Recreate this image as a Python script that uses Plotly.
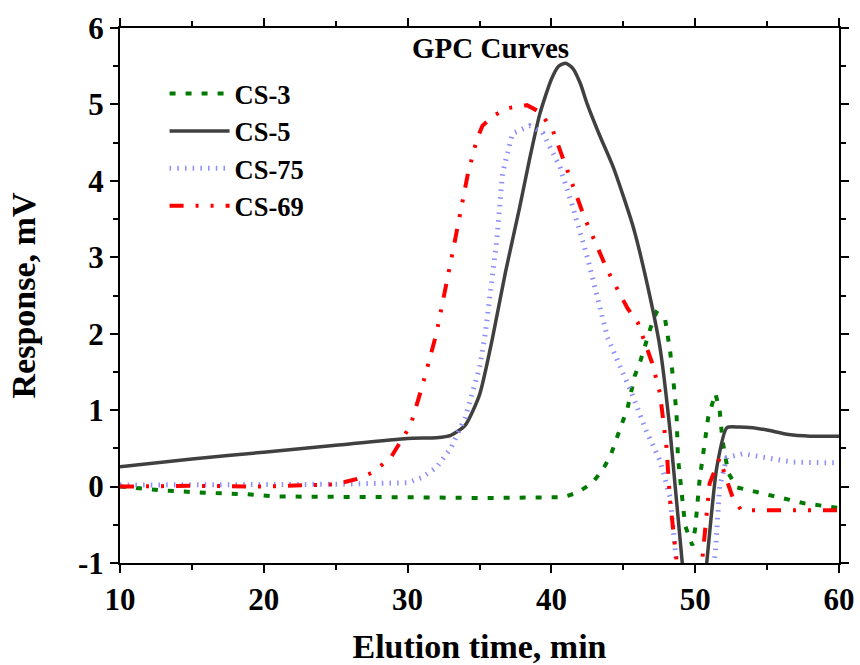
import plotly.graph_objects as go

# ---- data ----
x_cs3 = [10, 13, 15.8, 18.8, 20.9, 25, 30, 35, 40, 40.8, 41.8, 42.8, 43.5, 44.1, 44.9, 45.3, 45.8, 46.2, 46.9, 47.3,
         47.9, 48.25, 48.5, 48.7, 48.8, 49.1, 49.3, 49.8, 50.0, 50.3, 50.7, 50.9, 51.4, 51.7, 51.9, 52.3, 52.9, 53.8,
         55.8, 57.6, 60]
y_cs3 = [0.0, -0.05, -0.08, -0.1, -0.13, -0.13, -0.14, -0.15, -0.15, -0.14, -0.08, 0.04, 0.2, 0.4, 0.82, 1.03, 1.45,
         1.65, 2.08, 2.28, 2.2, 1.78, 1.35, 0.96, 0.38, -0.09, -0.51, -0.77, -0.55, 0.08, 0.69, 0.9, 1.22, 1.0, 0.6,
         0.18, -0.01, -0.05, -0.14, -0.22, -0.28]

x_cs5 = [10, 15, 20, 25, 30, 32, 33, 34, 35, 35.9, 36.8, 37.8, 38.5, 39.2, 40, 40.5, 41, 41.5, 42, 42.5, 43.3,
         44.3, 45.0, 45.7, 46.6, 47.55, 48.25, 49.1, 50, 50.8, 51.5, 52.2, 53, 54, 55, 56.5, 58, 60]
y_cs5 = [0.26, 0.36, 0.45, 0.54, 0.63, 0.64, 0.67, 0.8, 1.2, 1.94, 2.8, 3.66, 4.3, 4.88, 5.33, 5.5, 5.54, 5.47,
         5.28, 5.0, 4.62, 4.18, 3.8, 3.39, 2.7, 1.82, 0.73, -1.0, -2.5, -1.0, 0.25, 0.77, 0.78, 0.77, 0.74, 0.68,
         0.66, 0.66]

x_cs75 = [10, 15, 20, 25, 30, 31, 32, 33, 34, 35, 35.4, 36.2, 36.6, 37.3, 38.5, 39.4, 40.6, 41.5, 42.5, 43.9, 45.5,
          46.6, 47.55, 48.25, 48.6, 49.2, 50.5, 51.4, 51.7, 52.2, 53.3, 55, 56.8, 60]
y_cs75 = [0.02, 0.02, 0.03, 0.03, 0.05, 0.12, 0.25, 0.5, 0.9, 1.55, 2.0, 3.22, 4.1, 4.62, 4.72, 4.63, 4.18, 3.65,
          3.0, 1.95, 1.26, 0.73, 0.34, -0.14, -0.8, -2.0, -2.0, -0.88, 0.0, 0.38, 0.43, 0.37, 0.32, 0.31]

x_cs69 = [10, 15, 20, 25, 26.5, 27.5, 28.8, 30.2, 31, 32, 33.2, 34.2, 34.8, 35.2, 35.9, 36.9, 38.3, 39.2, 40.1,
          41.4, 42.3, 43.9, 45.3, 46.0, 46.5, 47.0, 47.55, 48.0, 48.25, 48.7, 49.5, 50.5, 51.0, 51.4, 51.7, 52.2,
          52.6, 53.2, 56, 60]
y_cs69 = [0.0, 0.01, 0.0, 0.03, 0.1, 0.18, 0.37, 0.8, 1.3, 2.0, 3.13, 4.1, 4.53, 4.72, 4.84, 4.95, 4.99, 4.9, 4.66,
          3.97, 3.52, 2.83, 2.33, 2.15, 1.88, 1.62, 1.22, 0.52, -0.18, -0.97, -2.0, -0.94, 0.04, 0.25, 0.37, 0.08,
          -0.14, -0.31, -0.31, -0.31]

x_ticks = [10, 20, 30, 40, 50, 60]
y_ticks = [-1, 0, 1, 2, 3, 4, 5, 6]

FONT = "Liberation Serif, Times New Roman, serif"

fig = go.Figure()
fig.add_trace(go.Scatter(x=x_cs3, y=y_cs3, mode="lines", name="CS-3", legendgroup="a",
                         line=dict(color="#007a00", width=4, dash="6px,10px")))
fig.add_trace(go.Scatter(x=x_cs5, y=y_cs5, mode="lines", name="CS-5", legendgroup="b",
                         line=dict(color="#404040", width=3.5, shape="spline", smoothing=0.6)))
fig.add_trace(go.Scatter(x=x_cs75, y=y_cs75, mode="lines", name="CS-75", legendgroup="c",
                         line=dict(color="#8c8cff", width=5, dash="1.5px,6.2px")))
fig.add_trace(go.Scatter(x=x_cs69, y=y_cs69, mode="lines", name="CS-69", legendgroup="d",
                         line=dict(color="#ff0000", width=4, dash="14px,12px,3px,12px,3px,12px")))

axis_common = dict(showline=True, linecolor="black", linewidth=2, mirror="allticks", ticks="outside",
                   ticklen=8, tickwidth=2, tickcolor="black", showgrid=False, zeroline=False,
                   automargin=False,
                   tickfont=dict(family=FONT, size=31, color="black", weight="bold"),
                   minor=dict(ticks="outside", ticklen=5, tickwidth=1.5, tickcolor="black"))

fig.update_xaxes(range=[10, 60], tickvals=x_ticks, ticktext=[str(v) for v in x_ticks],
                 minor_dtick=5,
                 title=dict(text="Elution time, min", standoff=24,
                            font=dict(family=FONT, size=34, color="black", weight="bold")),
                 **axis_common)
fig.update_yaxes(range=[-1, 6], tickvals=y_ticks, ticktext=[str(v) for v in y_ticks],
                 minor_dtick=0.5,
                 title=dict(text="Response, mV", standoff=32,
                            font=dict(family=FONT, size=34, color="black", weight="bold")),
                 **axis_common)

fig.add_annotation(text="GPC Curves", xref="paper", yref="paper", x=0.515, y=0.963,
                   xanchor="center", yanchor="middle", showarrow=False,
                   font=dict(family=FONT, size=29, color="black", weight="bold"))

fig.update_layout(
    width=860, height=665,
    margin=dict(l=120, r=21, t=28, b=102),
    plot_bgcolor="white", paper_bgcolor="white",
    legend=dict(x=0.062, y=0.922, xanchor="left", yanchor="top", bgcolor="rgba(0,0,0,0)",
                font=dict(family=FONT, size=26.5, color="black", weight="bold"),
                tracegroupgap=0, itemwidth=60),
    showlegend=True,
)

fig.write_html("out.html", config={"displayModeBar": False},
               post_script="document.body.style.margin='0';document.body.style.overflow='hidden';")
